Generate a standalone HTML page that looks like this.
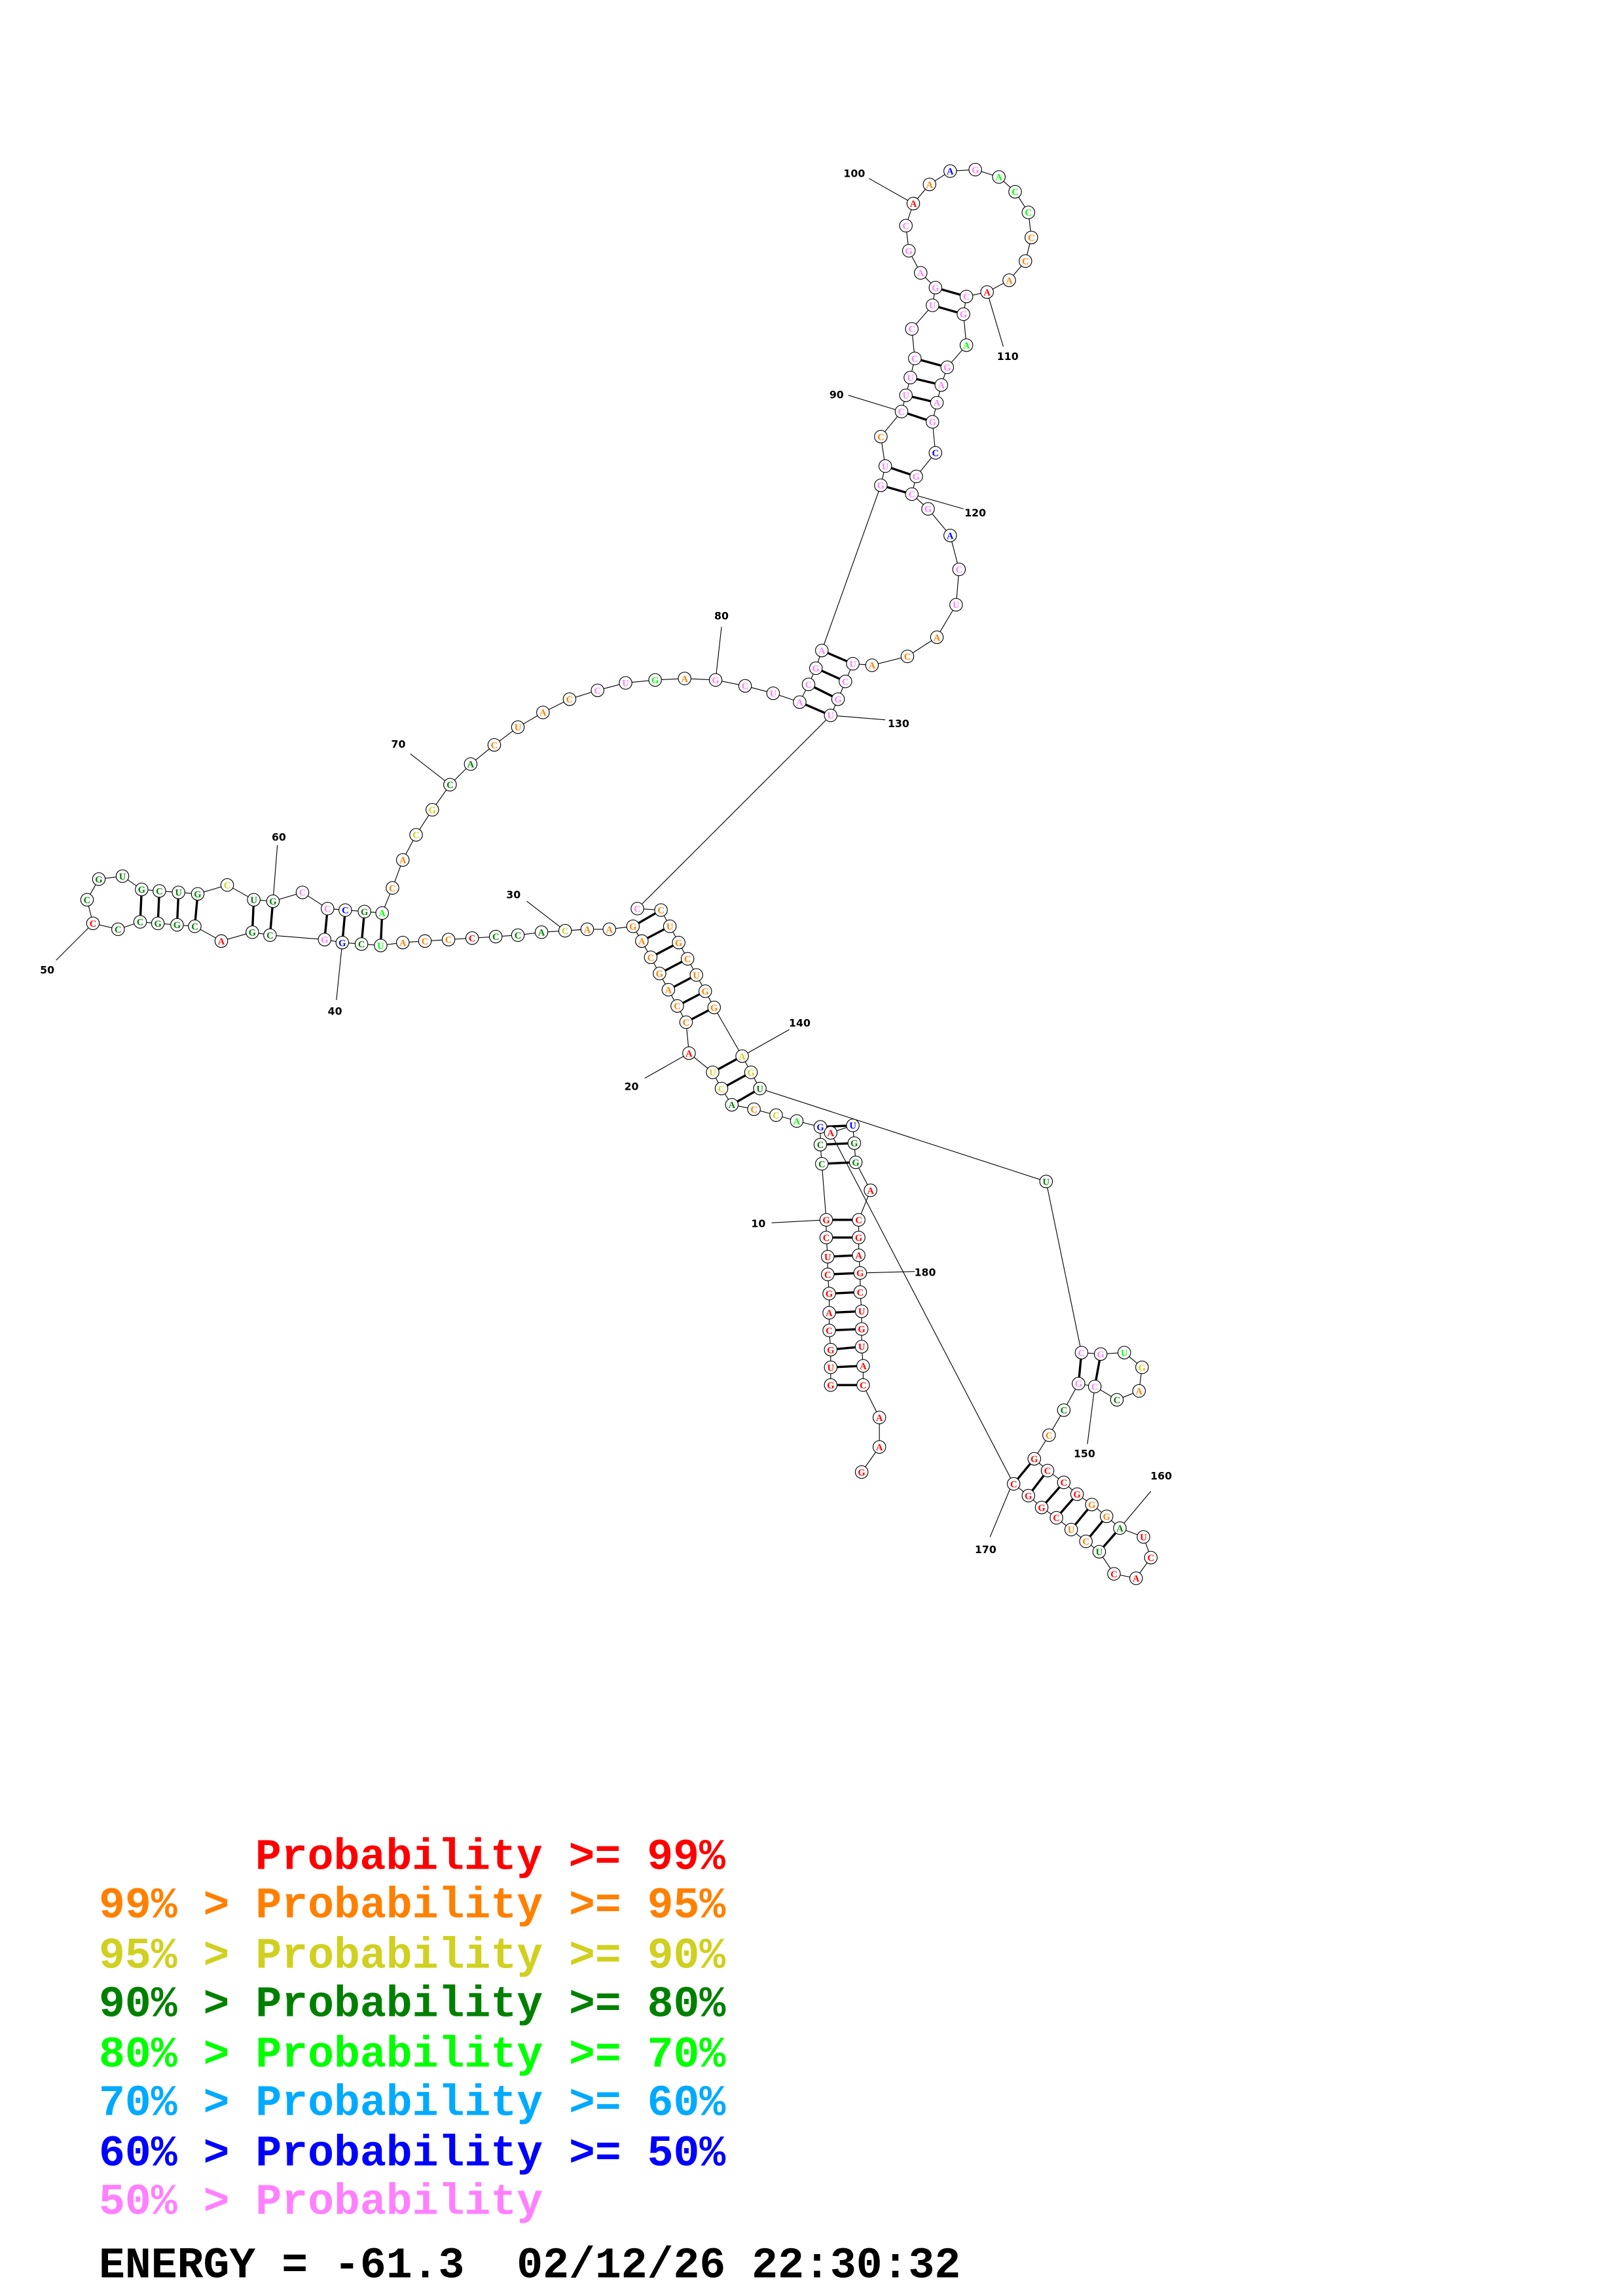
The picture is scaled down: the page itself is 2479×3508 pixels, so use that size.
<!DOCTYPE html>
<html><head><meta charset="utf-8"><style>
html,body{margin:0;padding:0;background:#fff;}
svg{display:block;}
.n circle{fill:#fff;stroke:#000;stroke-width:0.5;}
.n text{font-family:"Liberation Serif",serif;font-weight:bold;font-size:6.5px;text-anchor:middle;}
.lab{font-family:"DejaVu Sans","Liberation Sans",sans-serif;font-weight:bold;font-size:7px;text-anchor:middle;fill:#000;}
.leg{font-family:"Liberation Mono",monospace;font-weight:bold;font-size:29.5px;white-space:pre;}
.R{fill:#f00}.O{fill:#ff8000}.Y{fill:#d0d020}.D{fill:#008000}.L{fill:#00ff00}.S{fill:#00aaff}.B{fill:#0000ff}.P{fill:#ff80ff}
</style></head><body>
<svg width="2479" height="3508" viewBox="0 0 1100 1556.6" xmlns="http://www.w3.org/2000/svg">
<rect width="1100" height="1556.6" fill="#fff"/>
<g stroke="#000" stroke-width="0.5" fill="none">
<polyline points="563,939 563,927 563,915 562,902 562,890 562,877 561,864 561,852 560,839 560,827 557,789 556,776 556,764 540,760 526,756 511,752 496,749 489,738 483,727 467,714 465,693 459,682 453,671 447,660 441,649 435,638 429,628 413,630 398,630 383,631 367,632 351,634 336,635 320,636 304,637 288,638 273,639 258,641 245,640 232,639 220,637 183,634 171,632 150,638 132,628 120,627 107,626 95,625 80,630 63,626 59,610 67,596 83,594 96,603 108,604 121,605 134,606 154,600 172,610 185,611 205,605 222,616 234,617 247,618 259,619 266,602 273,583 282,566 293,549 305,532 319,518 335,505 351,493 368,483 386,474 405,468 424,463 444,461 464,460 485,461 505,465 524,470 542,476 548,464 553,453 557,441 597,329 600,316 597,296 611,279 614,268 617,256 620,243 618,223 632,207 634,195 624,185 616,170 614,153 619,138 630,125 644,116 661,115 677,120 688,130 697,144 699,161 695,177 684,190 669,198 655,201 653,213 655,234 642,249 638,261 635,273 632,286 634,307 621,323 618,335 629,345 644,363 650,386 648,410 635,432 615,445 591,451 578,450 573,462 568,474 563,485 432,616 448,617 454,628 460,639 466,650 472,661 478,672 484,683 503,716 509,727 515,738 709,801 733,917 746,918 762,917 774,927 772,943 757,949 742,940 731,938 721,956 711,973 701,989 710,997 721,1005 730,1013 740,1020 750,1028 759,1036 775,1042 780,1056 770,1070 755,1067 745,1052 736,1045 726,1037 716,1029 706,1022 697,1014 687,1006 563,768 578,763 579,775 580,788 590,807 582,827 582,839 582,851 583,863 583,876 584,889 584,901 584,913 585,926 585,939 596,961 596,981 584,998"/>
<line x1="560" y1="827" x2="523" y2="829"/><line x1="467" y1="714" x2="437" y2="731"/>
<line x1="383" y1="631" x2="357" y2="611"/><line x1="232" y1="639" x2="228" y2="678"/>
<line x1="63" y1="626" x2="38" y2="651"/><line x1="185" y1="611" x2="188" y2="573"/>
<line x1="305" y1="532" x2="278" y2="511"/><line x1="485" y1="461" x2="489" y2="425"/>
<line x1="611" y1="279" x2="575" y2="268"/><line x1="619" y1="138" x2="589" y2="121"/>
<line x1="669" y1="198" x2="680" y2="235"/><line x1="618" y1="335" x2="653" y2="345"/>
<line x1="563" y1="485" x2="600" y2="488"/><line x1="503" y1="716" x2="535" y2="698"/>
<line x1="742" y1="940" x2="737" y2="979"/><line x1="759" y1="1036" x2="780" y2="1011"/>
<line x1="686" y1="1006" x2="671" y2="1042"/><line x1="583" y1="863" x2="620" y2="862"/>
</g>
<g stroke="#000" stroke-width="1.5">
<line x1="563" y1="939" x2="585" y2="939"/><line x1="563" y1="927" x2="585" y2="926"/>
<line x1="563" y1="915" x2="584" y2="913"/><line x1="562" y1="902" x2="584" y2="901"/>
<line x1="562" y1="890" x2="584" y2="889"/><line x1="562" y1="877" x2="583" y2="876"/>
<line x1="561" y1="864" x2="583" y2="863"/><line x1="561" y1="852" x2="582" y2="851"/>
<line x1="560" y1="839" x2="582" y2="839"/><line x1="560" y1="827" x2="582" y2="827"/>
<line x1="557" y1="789" x2="580" y2="788"/><line x1="556" y1="776" x2="579" y2="775"/>
<line x1="556" y1="764" x2="578" y2="763"/>
<line x1="496" y1="749" x2="515" y2="738"/><line x1="489" y1="738" x2="509" y2="727"/>
<line x1="483" y1="727" x2="503" y2="716"/>
<line x1="465" y1="693" x2="484" y2="683"/><line x1="459" y1="682" x2="478" y2="672"/>
<line x1="453" y1="671" x2="472" y2="661"/><line x1="447" y1="660" x2="466" y2="650"/>
<line x1="441" y1="649" x2="460" y2="639"/><line x1="435" y1="638" x2="454" y2="628"/>
<line x1="429" y1="628" x2="448" y2="617"/>
<line x1="258" y1="641" x2="259" y2="619"/><line x1="245" y1="640" x2="247" y2="618"/>
<line x1="232" y1="639" x2="234" y2="617"/><line x1="220" y1="637" x2="222" y2="616"/>
<line x1="183" y1="634" x2="185" y2="611"/><line x1="171" y1="632" x2="172" y2="610"/>
<line x1="132" y1="628" x2="134" y2="606"/><line x1="120" y1="627" x2="121" y2="605"/>
<line x1="107" y1="626" x2="108" y2="604"/><line x1="95" y1="625" x2="96" y2="603"/>
<line x1="542" y1="476" x2="563" y2="485"/><line x1="548" y1="464" x2="568" y2="474"/>
<line x1="553" y1="453" x2="573" y2="462"/><line x1="557" y1="441" x2="578" y2="450"/>
<line x1="597" y1="329" x2="618" y2="335"/><line x1="600" y1="316" x2="621" y2="323"/>
<line x1="611" y1="279" x2="632" y2="286"/><line x1="614" y1="268" x2="635" y2="273"/>
<line x1="617" y1="256" x2="638" y2="261"/><line x1="620" y1="243" x2="642" y2="249"/>
<line x1="632" y1="207" x2="653" y2="213"/><line x1="634" y1="195" x2="655" y2="201"/>
<line x1="733" y1="917" x2="731" y2="938"/><line x1="746" y1="918" x2="742" y2="940"/>
<line x1="701" y1="989" x2="687" y2="1006"/><line x1="710" y1="997" x2="697" y2="1014"/>
<line x1="721" y1="1005" x2="706" y2="1022"/><line x1="730" y1="1013" x2="716" y2="1029"/>
<line x1="740" y1="1020" x2="726" y2="1037"/><line x1="750" y1="1028" x2="736" y2="1045"/>
<line x1="759" y1="1036" x2="745" y2="1052"/>
</g>
<g class="n">
<circle cx="563" cy="939" r="4.3"/><text x="563" y="941.3" class="R">G</text>
<circle cx="563" cy="927" r="4.3"/><text x="563" y="929.3" class="R">U</text>
<circle cx="563" cy="915" r="4.3"/><text x="563" y="917.3" class="R">G</text>
<circle cx="562" cy="902" r="4.3"/><text x="562" y="904.3" class="R">C</text>
<circle cx="562" cy="890" r="4.3"/><text x="562" y="892.3" class="R">A</text>
<circle cx="562" cy="877" r="4.3"/><text x="562" y="879.3" class="R">G</text>
<circle cx="561" cy="864" r="4.3"/><text x="561" y="866.3" class="R">C</text>
<circle cx="561" cy="852" r="4.3"/><text x="561" y="854.3" class="R">U</text>
<circle cx="560" cy="839" r="4.3"/><text x="560" y="841.3" class="R">C</text>
<circle cx="560" cy="827" r="4.3"/><text x="560" y="829.3" class="R">G</text>
<circle cx="557" cy="789" r="4.3"/><text x="557" y="791.3" class="D">C</text>
<circle cx="556" cy="776" r="4.3"/><text x="556" y="778.3" class="D">C</text>
<circle cx="556" cy="764" r="4.3"/><text x="556" y="766.3" class="B">G</text>
<circle cx="540" cy="760" r="4.3"/><text x="540" y="762.3" class="L">A</text>
<circle cx="526" cy="756" r="4.3"/><text x="526" y="758.3" class="Y">C</text>
<circle cx="511" cy="752" r="4.3"/><text x="511" y="754.3" class="O">C</text>
<circle cx="496" cy="749" r="4.3"/><text x="496" y="751.3" class="D">A</text>
<circle cx="489" cy="738" r="4.3"/><text x="489" y="740.3" class="Y">C</text>
<circle cx="483" cy="727" r="4.3"/><text x="483" y="729.3" class="Y">U</text>
<circle cx="467" cy="714" r="4.3"/><text x="467" y="716.3" class="R">A</text>
<circle cx="465" cy="693" r="4.3"/><text x="465" y="695.3" class="O">C</text>
<circle cx="459" cy="682" r="4.3"/><text x="459" y="684.3" class="O">C</text>
<circle cx="453" cy="671" r="4.3"/><text x="453" y="673.3" class="O">A</text>
<circle cx="447" cy="660" r="4.3"/><text x="447" y="662.3" class="O">G</text>
<circle cx="441" cy="649" r="4.3"/><text x="441" y="651.3" class="O">C</text>
<circle cx="435" cy="638" r="4.3"/><text x="435" y="640.3" class="O">A</text>
<circle cx="429" cy="628" r="4.3"/><text x="429" y="630.3" class="O">G</text>
<circle cx="413" cy="630" r="4.3"/><text x="413" y="632.3" class="O">A</text>
<circle cx="398" cy="630" r="4.3"/><text x="398" y="632.3" class="O">A</text>
<circle cx="383" cy="631" r="4.3"/><text x="383" y="633.3" class="Y">C</text>
<circle cx="367" cy="632" r="4.3"/><text x="367" y="634.3" class="D">A</text>
<circle cx="351" cy="634" r="4.3"/><text x="351" y="636.3" class="D">C</text>
<circle cx="336" cy="635" r="4.3"/><text x="336" y="637.3" class="D">C</text>
<circle cx="320" cy="636" r="4.3"/><text x="320" y="638.3" class="R">C</text>
<circle cx="304" cy="637" r="4.3"/><text x="304" y="639.3" class="O">C</text>
<circle cx="288" cy="638" r="4.3"/><text x="288" y="640.3" class="O">C</text>
<circle cx="273" cy="639" r="4.3"/><text x="273" y="641.3" class="O">A</text>
<circle cx="258" cy="641" r="4.3"/><text x="258" y="643.3" class="L">U</text>
<circle cx="245" cy="640" r="4.3"/><text x="245" y="642.3" class="D">C</text>
<circle cx="232" cy="639" r="4.3"/><text x="232" y="641.3" class="B">G</text>
<circle cx="220" cy="637" r="4.3"/><text x="220" y="639.3" class="P">G</text>
<circle cx="183" cy="634" r="4.3"/><text x="183" y="636.3" class="D">C</text>
<circle cx="171" cy="632" r="4.3"/><text x="171" y="634.3" class="D">G</text>
<circle cx="150" cy="638" r="4.3"/><text x="150" y="640.3" class="R">A</text>
<circle cx="132" cy="628" r="4.3"/><text x="132" y="630.3" class="D">C</text>
<circle cx="120" cy="627" r="4.3"/><text x="120" y="629.3" class="D">G</text>
<circle cx="107" cy="626" r="4.3"/><text x="107" y="628.3" class="D">G</text>
<circle cx="95" cy="625" r="4.3"/><text x="95" y="627.3" class="D">C</text>
<circle cx="80" cy="630" r="4.3"/><text x="80" y="632.3" class="D">C</text>
<circle cx="63" cy="626" r="4.3"/><text x="63" y="628.3" class="R">C</text>
<circle cx="59" cy="610" r="4.3"/><text x="59" y="612.3" class="D">C</text>
<circle cx="67" cy="596" r="4.3"/><text x="67" y="598.3" class="D">G</text>
<circle cx="83" cy="594" r="4.3"/><text x="83" y="596.3" class="D">U</text>
<circle cx="96" cy="603" r="4.3"/><text x="96" y="605.3" class="D">G</text>
<circle cx="108" cy="604" r="4.3"/><text x="108" y="606.3" class="D">C</text>
<circle cx="121" cy="605" r="4.3"/><text x="121" y="607.3" class="D">U</text>
<circle cx="134" cy="606" r="4.3"/><text x="134" y="608.3" class="D">G</text>
<circle cx="154" cy="600" r="4.3"/><text x="154" y="602.3" class="Y">C</text>
<circle cx="172" cy="610" r="4.3"/><text x="172" y="612.3" class="D">U</text>
<circle cx="185" cy="611" r="4.3"/><text x="185" y="613.3" class="D">G</text>
<circle cx="205" cy="605" r="4.3"/><text x="205" y="607.3" class="P">C</text>
<circle cx="222" cy="616" r="4.3"/><text x="222" y="618.3" class="P">C</text>
<circle cx="234" cy="617" r="4.3"/><text x="234" y="619.3" class="B">C</text>
<circle cx="247" cy="618" r="4.3"/><text x="247" y="620.3" class="D">G</text>
<circle cx="259" cy="619" r="4.3"/><text x="259" y="621.3" class="L">A</text>
<circle cx="266" cy="602" r="4.3"/><text x="266" y="604.3" class="O">C</text>
<circle cx="273" cy="583" r="4.3"/><text x="273" y="585.3" class="O">A</text>
<circle cx="282" cy="566" r="4.3"/><text x="282" y="568.3" class="Y">C</text>
<circle cx="293" cy="549" r="4.3"/><text x="293" y="551.3" class="Y">G</text>
<circle cx="305" cy="532" r="4.3"/><text x="305" y="534.3" class="D">C</text>
<circle cx="319" cy="518" r="4.3"/><text x="319" y="520.3" class="D">A</text>
<circle cx="335" cy="505" r="4.3"/><text x="335" y="507.3" class="O">C</text>
<circle cx="351" cy="493" r="4.3"/><text x="351" y="495.3" class="O">U</text>
<circle cx="368" cy="483" r="4.3"/><text x="368" y="485.3" class="O">A</text>
<circle cx="386" cy="474" r="4.3"/><text x="386" y="476.3" class="O">C</text>
<circle cx="405" cy="468" r="4.3"/><text x="405" y="470.3" class="P">C</text>
<circle cx="424" cy="463" r="4.3"/><text x="424" y="465.3" class="P">U</text>
<circle cx="444" cy="461" r="4.3"/><text x="444" y="463.3" class="L">G</text>
<circle cx="464" cy="460" r="4.3"/><text x="464" y="462.3" class="O">A</text>
<circle cx="485" cy="461" r="4.3"/><text x="485" y="463.3" class="P">G</text>
<circle cx="505" cy="465" r="4.3"/><text x="505" y="467.3" class="P">C</text>
<circle cx="524" cy="470" r="4.3"/><text x="524" y="472.3" class="P">U</text>
<circle cx="542" cy="476" r="4.3"/><text x="542" y="478.3" class="P">A</text>
<circle cx="548" cy="464" r="4.3"/><text x="548" y="466.3" class="P">C</text>
<circle cx="553" cy="453" r="4.3"/><text x="553" y="455.3" class="P">G</text>
<circle cx="557" cy="441" r="4.3"/><text x="557" y="443.3" class="P">A</text>
<circle cx="597" cy="329" r="4.3"/><text x="597" y="331.3" class="P">G</text>
<circle cx="600" cy="316" r="4.3"/><text x="600" y="318.3" class="P">U</text>
<circle cx="597" cy="296" r="4.3"/><text x="597" y="298.3" class="O">C</text>
<circle cx="611" cy="279" r="4.3"/><text x="611" y="281.3" class="P">C</text>
<circle cx="614" cy="268" r="4.3"/><text x="614" y="270.3" class="P">U</text>
<circle cx="617" cy="256" r="4.3"/><text x="617" y="258.3" class="P">U</text>
<circle cx="620" cy="243" r="4.3"/><text x="620" y="245.3" class="P">C</text>
<circle cx="618" cy="223" r="4.3"/><text x="618" y="225.3" class="P">C</text>
<circle cx="632" cy="207" r="4.3"/><text x="632" y="209.3" class="P">U</text>
<circle cx="634" cy="195" r="4.3"/><text x="634" y="197.3" class="P">G</text>
<circle cx="624" cy="185" r="4.3"/><text x="624" y="187.3" class="P">A</text>
<circle cx="616" cy="170" r="4.3"/><text x="616" y="172.3" class="P">G</text>
<circle cx="614" cy="153" r="4.3"/><text x="614" y="155.3" class="P">C</text>
<circle cx="619" cy="138" r="4.3"/><text x="619" y="140.3" class="R">A</text>
<circle cx="630" cy="125" r="4.3"/><text x="630" y="127.3" class="O">A</text>
<circle cx="644" cy="116" r="4.3"/><text x="644" y="118.3" class="B">A</text>
<circle cx="661" cy="115" r="4.3"/><text x="661" y="117.3" class="P">G</text>
<circle cx="677" cy="120" r="4.3"/><text x="677" y="122.3" class="L">A</text>
<circle cx="688" cy="130" r="4.3"/><text x="688" y="132.3" class="L">C</text>
<circle cx="697" cy="144" r="4.3"/><text x="697" y="146.3" class="L">C</text>
<circle cx="699" cy="161" r="4.3"/><text x="699" y="163.3" class="O">C</text>
<circle cx="695" cy="177" r="4.3"/><text x="695" y="179.3" class="O">C</text>
<circle cx="684" cy="190" r="4.3"/><text x="684" y="192.3" class="O">A</text>
<circle cx="669" cy="198" r="4.3"/><text x="669" y="200.3" class="R">A</text>
<circle cx="655" cy="201" r="4.3"/><text x="655" y="203.3" class="P">C</text>
<circle cx="653" cy="213" r="4.3"/><text x="653" y="215.3" class="P">G</text>
<circle cx="655" cy="234" r="4.3"/><text x="655" y="236.3" class="L">A</text>
<circle cx="642" cy="249" r="4.3"/><text x="642" y="251.3" class="P">G</text>
<circle cx="638" cy="261" r="4.3"/><text x="638" y="263.3" class="P">A</text>
<circle cx="635" cy="273" r="4.3"/><text x="635" y="275.3" class="P">A</text>
<circle cx="632" cy="286" r="4.3"/><text x="632" y="288.3" class="P">G</text>
<circle cx="634" cy="307" r="4.3"/><text x="634" y="309.3" class="B">C</text>
<circle cx="621" cy="323" r="4.3"/><text x="621" y="325.3" class="P">G</text>
<circle cx="618" cy="335" r="4.3"/><text x="618" y="337.3" class="P">C</text>
<circle cx="629" cy="345" r="4.3"/><text x="629" y="347.3" class="P">G</text>
<circle cx="644" cy="363" r="4.3"/><text x="644" y="365.3" class="B">A</text>
<circle cx="650" cy="386" r="4.3"/><text x="650" y="388.3" class="P">C</text>
<circle cx="648" cy="410" r="4.3"/><text x="648" y="412.3" class="P">U</text>
<circle cx="635" cy="432" r="4.3"/><text x="635" y="434.3" class="O">A</text>
<circle cx="615" cy="445" r="4.3"/><text x="615" y="447.3" class="O">C</text>
<circle cx="591" cy="451" r="4.3"/><text x="591" y="453.3" class="O">A</text>
<circle cx="578" cy="450" r="4.3"/><text x="578" y="452.3" class="P">U</text>
<circle cx="573" cy="462" r="4.3"/><text x="573" y="464.3" class="P">C</text>
<circle cx="568" cy="474" r="4.3"/><text x="568" y="476.3" class="P">G</text>
<circle cx="563" cy="485" r="4.3"/><text x="563" y="487.3" class="P">U</text>
<circle cx="432" cy="616" r="4.3"/><text x="432" y="618.3" class="P">C</text>
<circle cx="448" cy="617" r="4.3"/><text x="448" y="619.3" class="O">C</text>
<circle cx="454" cy="628" r="4.3"/><text x="454" y="630.3" class="O">U</text>
<circle cx="460" cy="639" r="4.3"/><text x="460" y="641.3" class="O">G</text>
<circle cx="466" cy="650" r="4.3"/><text x="466" y="652.3" class="O">C</text>
<circle cx="472" cy="661" r="4.3"/><text x="472" y="663.3" class="O">U</text>
<circle cx="478" cy="672" r="4.3"/><text x="478" y="674.3" class="O">G</text>
<circle cx="484" cy="683" r="4.3"/><text x="484" y="685.3" class="O">G</text>
<circle cx="503" cy="716" r="4.3"/><text x="503" y="718.3" class="Y">A</text>
<circle cx="509" cy="727" r="4.3"/><text x="509" y="729.3" class="Y">G</text>
<circle cx="515" cy="738" r="4.3"/><text x="515" y="740.3" class="D">U</text>
<circle cx="709" cy="801" r="4.3"/><text x="709" y="803.3" class="D">U</text>
<circle cx="733" cy="917" r="4.3"/><text x="733" y="919.3" class="P">C</text>
<circle cx="746" cy="918" r="4.3"/><text x="746" y="920.3" class="P">G</text>
<circle cx="762" cy="917" r="4.3"/><text x="762" y="919.3" class="L">U</text>
<circle cx="774" cy="927" r="4.3"/><text x="774" y="929.3" class="Y">G</text>
<circle cx="772" cy="943" r="4.3"/><text x="772" y="945.3" class="O">A</text>
<circle cx="757" cy="949" r="4.3"/><text x="757" y="951.3" class="D">C</text>
<circle cx="742" cy="940" r="4.3"/><text x="742" y="942.3" class="P">C</text>
<circle cx="731" cy="938" r="4.3"/><text x="731" y="940.3" class="P">G</text>
<circle cx="721" cy="956" r="4.3"/><text x="721" y="958.3" class="D">C</text>
<circle cx="711" cy="973" r="4.3"/><text x="711" y="975.3" class="O">C</text>
<circle cx="701" cy="989" r="4.3"/><text x="701" y="991.3" class="R">G</text>
<circle cx="710" cy="997" r="4.3"/><text x="710" y="999.3" class="R">C</text>
<circle cx="721" cy="1005" r="4.3"/><text x="721" y="1007.3" class="R">C</text>
<circle cx="730" cy="1013" r="4.3"/><text x="730" y="1015.3" class="R">G</text>
<circle cx="740" cy="1020" r="4.3"/><text x="740" y="1022.3" class="O">G</text>
<circle cx="750" cy="1028" r="4.3"/><text x="750" y="1030.3" class="O">G</text>
<circle cx="759" cy="1036" r="4.3"/><text x="759" y="1038.3" class="D">A</text>
<circle cx="775" cy="1042" r="4.3"/><text x="775" y="1044.3" class="R">U</text>
<circle cx="780" cy="1056" r="4.3"/><text x="780" y="1058.3" class="R">C</text>
<circle cx="770" cy="1070" r="4.3"/><text x="770" y="1072.3" class="R">A</text>
<circle cx="755" cy="1067" r="4.3"/><text x="755" y="1069.3" class="R">C</text>
<circle cx="745" cy="1052" r="4.3"/><text x="745" y="1054.3" class="D">U</text>
<circle cx="736" cy="1045" r="4.3"/><text x="736" y="1047.3" class="O">C</text>
<circle cx="726" cy="1037" r="4.3"/><text x="726" y="1039.3" class="O">U</text>
<circle cx="716" cy="1029" r="4.3"/><text x="716" y="1031.3" class="R">C</text>
<circle cx="706" cy="1022" r="4.3"/><text x="706" y="1024.3" class="R">G</text>
<circle cx="697" cy="1014" r="4.3"/><text x="697" y="1016.3" class="R">G</text>
<circle cx="687" cy="1006" r="4.3"/><text x="687" y="1008.3" class="R">C</text>
<circle cx="578" cy="763" r="4.3"/><text x="578" y="765.3" class="B">U</text>
<circle cx="563" cy="768" r="4.3"/><text x="563" y="770.3" class="R">A</text>
<circle cx="579" cy="775" r="4.3"/><text x="579" y="777.3" class="D">G</text>
<circle cx="580" cy="788" r="4.3"/><text x="580" y="790.3" class="D">G</text>
<circle cx="590" cy="807" r="4.3"/><text x="590" y="809.3" class="R">A</text>
<circle cx="582" cy="827" r="4.3"/><text x="582" y="829.3" class="R">C</text>
<circle cx="582" cy="839" r="4.3"/><text x="582" y="841.3" class="R">G</text>
<circle cx="582" cy="851" r="4.3"/><text x="582" y="853.3" class="R">A</text>
<circle cx="583" cy="863" r="4.3"/><text x="583" y="865.3" class="R">G</text>
<circle cx="583" cy="876" r="4.3"/><text x="583" y="878.3" class="R">C</text>
<circle cx="584" cy="889" r="4.3"/><text x="584" y="891.3" class="R">U</text>
<circle cx="584" cy="901" r="4.3"/><text x="584" y="903.3" class="R">G</text>
<circle cx="584" cy="913" r="4.3"/><text x="584" y="915.3" class="R">U</text>
<circle cx="585" cy="926" r="4.3"/><text x="585" y="928.3" class="R">A</text>
<circle cx="585" cy="939" r="4.3"/><text x="585" y="941.3" class="R">C</text>
<circle cx="596" cy="961" r="4.3"/><text x="596" y="963.3" class="R">A</text>
<circle cx="596" cy="981" r="4.3"/><text x="596" y="983.3" class="R">A</text>
<circle cx="584" cy="998" r="4.3"/><text x="584" y="1000.3" class="R">G</text>
</g>
<g class="lab">
<text x="514" y="832">10</text><text x="428" y="739">20</text><text x="348" y="609">30</text>
<text x="227" y="688">40</text><text x="32" y="660">50</text><text x="189" y="570">60</text>
<text x="270" y="507">70</text><text x="489" y="420">80</text><text x="567" y="270">90</text>
<text x="579" y="120">100</text><text x="683" y="244">110</text><text x="661" y="350">120</text>
<text x="609" y="493">130</text><text x="542" y="696">140</text><text x="735" y="988">150</text>
<text x="787" y="1003">160</text><text x="668" y="1053">170</text><text x="627" y="865">180</text>
</g>
<g class="leg">
<text x="173" y="1267" class="R">Probability &gt;= 99%</text>
<text x="67" y="1300" class="O">99% &gt; Probability &gt;= 95%</text>
<text x="67" y="1334" class="Y">95% &gt; Probability &gt;= 90%</text>
<text x="67" y="1367" class="D">90% &gt; Probability &gt;= 80%</text>
<text x="67" y="1401" class="L">80% &gt; Probability &gt;= 70%</text>
<text x="67" y="1434" class="S">70% &gt; Probability &gt;= 60%</text>
<text x="67" y="1468" class="B">60% &gt; Probability &gt;= 50%</text>
<text x="67" y="1501" class="P">50% &gt; Probability</text>
<text x="67" y="1544" fill="#000">ENERGY = -61.3&#160;&#160;02/12/26 22:30:32</text>
</g>
</svg>
</body></html>
